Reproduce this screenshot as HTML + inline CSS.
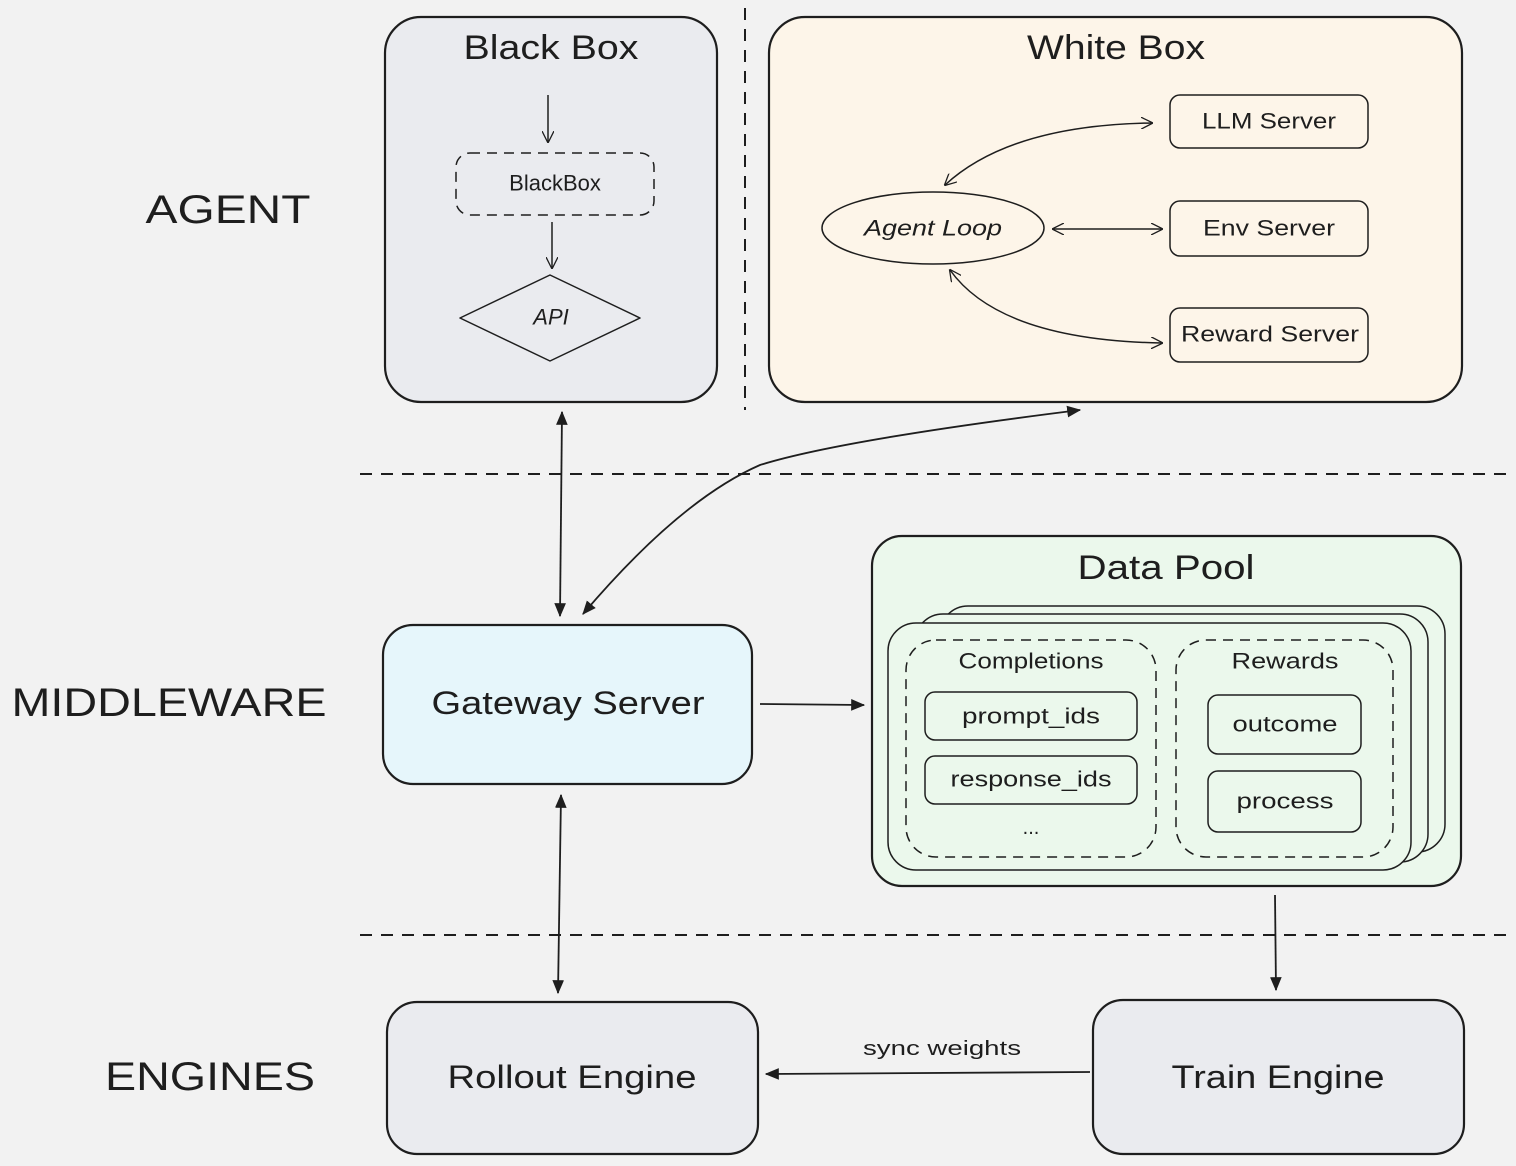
<!DOCTYPE html>
<html><head><style>
html,body{margin:0;padding:0;background:#f2f2f2}
svg{display:block}
text{font-family:"Liberation Sans",sans-serif;fill:#1e1e1e;text-anchor:middle;dominant-baseline:central}
</style></head><body>
<svg width="1516" height="1166" viewBox="0 0 1516 1166" xmlns="http://www.w3.org/2000/svg">
<defs>
<marker id="a" viewBox="0 0 12 12" refX="11" refY="6" markerWidth="12" markerHeight="12" markerUnits="userSpaceOnUse" orient="auto-start-reverse">
<path d="M0,0 L12,6 L0,12" fill="none" stroke="#1e1e1e" stroke-width="1.3"/></marker>
<marker id="f" viewBox="0 0 12 12" refX="11" refY="6" markerWidth="14" markerHeight="14" markerUnits="userSpaceOnUse" orient="auto-start-reverse">
<path d="M0,1 L12,6 L0,11 Z" fill="#1e1e1e"/></marker>
</defs>
<rect width="1516" height="1166" fill="#f2f2f2"/>
<g stroke="#1e1e1e" stroke-width="2" fill="none" stroke-dasharray="12 9">
<line x1="745" y1="8" x2="745" y2="410"/>
<line x1="360" y1="474" x2="1506" y2="474"/>
<line x1="360" y1="935" x2="1506" y2="935"/>
</g>
<text x="228" y="210" font-size="40" textLength="165" lengthAdjust="spacingAndGlyphs">AGENT</text>
<text x="169" y="703" font-size="40" textLength="315" lengthAdjust="spacingAndGlyphs">MIDDLEWARE</text>
<text x="210" y="1077" font-size="40" textLength="210" lengthAdjust="spacingAndGlyphs">ENGINES</text>

<g stroke="#1e1e1e" stroke-width="2.2">
<rect x="385" y="17" width="332" height="385" rx="36" fill="#eaebef"/>
<rect x="769" y="17" width="693" height="385" rx="36" fill="#fdf5e9"/>
<rect x="383" y="625" width="369" height="159" rx="30" fill="#e6f6fb"/>
<rect x="872" y="536" width="589" height="350" rx="30" fill="#ebf8ec"/>
<rect x="387" y="1002" width="371" height="152" rx="30" fill="#eaebef"/>
<rect x="1093" y="1000" width="371" height="154" rx="30" fill="#eaebef"/>
</g>
<text x="551" y="48" font-size="34" textLength="175" lengthAdjust="spacingAndGlyphs">Black Box</text>
<text x="1116" y="48" font-size="34" textLength="178" lengthAdjust="spacingAndGlyphs">White Box</text>
<text x="568" y="703" font-size="32" textLength="273" lengthAdjust="spacingAndGlyphs">Gateway Server</text>
<text x="1166" y="568" font-size="34" textLength="177" lengthAdjust="spacingAndGlyphs">Data Pool</text>
<text x="572" y="1077" font-size="32" textLength="249" lengthAdjust="spacingAndGlyphs">Rollout Engine</text>
<text x="1278" y="1077" font-size="32" textLength="213" lengthAdjust="spacingAndGlyphs">Train Engine</text>

<g stroke="#1e1e1e" stroke-width="1.5" fill="none">
<line x1="548" y1="95" x2="548" y2="142" marker-end="url(#a)"/>
<rect x="456" y="153" width="198" height="62" rx="14" stroke-dasharray="10 7"/>
<line x1="552" y1="222" x2="552" y2="268" marker-end="url(#a)"/>
<path d="M550,275 L640,318 L550,361 L460,318 Z" stroke-linejoin="round"/>
</g>
<text x="555" y="183" font-size="22">BlackBox</text>
<text x="551" y="317" font-size="22" font-style="italic">API</text>

<g stroke="#1e1e1e" stroke-width="1.5" fill="none">
<ellipse cx="933" cy="228" rx="111" ry="36"/>
<rect x="1170" y="95" width="198" height="53" rx="10"/>
<rect x="1170" y="201" width="198" height="55" rx="10"/>
<rect x="1170" y="308" width="198" height="54" rx="10"/>
<path d="M945,185 Q1010,125 1152,123" marker-start="url(#a)" marker-end="url(#a)"/>
<line x1="1053" y1="229" x2="1162" y2="229" marker-start="url(#a)" marker-end="url(#a)"/>
<path d="M950,270 Q1000,340 1162,343" marker-start="url(#a)" marker-end="url(#a)"/>
</g>
<text x="933" y="228" font-size="22" font-style="italic" textLength="138" lengthAdjust="spacingAndGlyphs">Agent Loop</text>
<text x="1269" y="121" font-size="22" textLength="134" lengthAdjust="spacingAndGlyphs">LLM Server</text>
<text x="1269" y="228" font-size="22" textLength="132" lengthAdjust="spacingAndGlyphs">Env Server</text>
<text x="1270" y="334" font-size="22" textLength="178" lengthAdjust="spacingAndGlyphs">Reward Server</text>

<g stroke="#1e1e1e" stroke-width="1.5" fill="#ebf8ec">
<rect x="940" y="606" width="505" height="246" rx="28"/>
<rect x="915" y="614" width="513" height="248" rx="28"/>
<rect x="888" y="623" width="523" height="247" rx="28"/>
<rect x="906" y="640" width="250" height="217" rx="30" fill="none" stroke-dasharray="10 7"/>
<rect x="1176" y="640" width="217" height="217" rx="30" fill="none" stroke-dasharray="10 7"/>
<rect x="925" y="692" width="212" height="48" rx="10"/>
<rect x="925" y="756" width="212" height="48" rx="10"/>
<rect x="1208" y="695" width="153" height="59" rx="10"/>
<rect x="1208" y="771" width="153" height="61" rx="10"/>
</g>
<text x="1031" y="661" font-size="22" textLength="145" lengthAdjust="spacingAndGlyphs">Completions</text>
<text x="1285" y="661" font-size="22" textLength="107" lengthAdjust="spacingAndGlyphs">Rewards</text>
<text x="1031" y="716" font-size="22" textLength="138" lengthAdjust="spacingAndGlyphs">prompt_ids</text>
<text x="1031" y="779" font-size="22" textLength="161" lengthAdjust="spacingAndGlyphs">response_ids</text>
<text x="1031" y="828" font-size="20">...</text>
<text x="1285" y="724" font-size="22" textLength="105" lengthAdjust="spacingAndGlyphs">outcome</text>
<text x="1285" y="801" font-size="22" textLength="97" lengthAdjust="spacingAndGlyphs">process</text>

<g stroke="#1e1e1e" stroke-width="1.8" fill="none">
<line x1="562" y1="412" x2="560" y2="616" marker-start="url(#f)" marker-end="url(#f)"/>
<path d="M583,614 Q680,500 760,465 Q840,440 1080,410" marker-start="url(#f)" marker-end="url(#f)"/>
<line x1="760" y1="704" x2="864" y2="705" marker-end="url(#f)"/>
<line x1="561" y1="795" x2="558" y2="993" marker-start="url(#f)" marker-end="url(#f)"/>
<line x1="1275" y1="895" x2="1276" y2="990" marker-end="url(#f)"/>
<line x1="1090" y1="1072" x2="766" y2="1074" marker-end="url(#f)"/>
</g>
<text x="942" y="1049" font-size="20" textLength="158" lengthAdjust="spacingAndGlyphs">sync weights</text>
</svg>
</body></html>
